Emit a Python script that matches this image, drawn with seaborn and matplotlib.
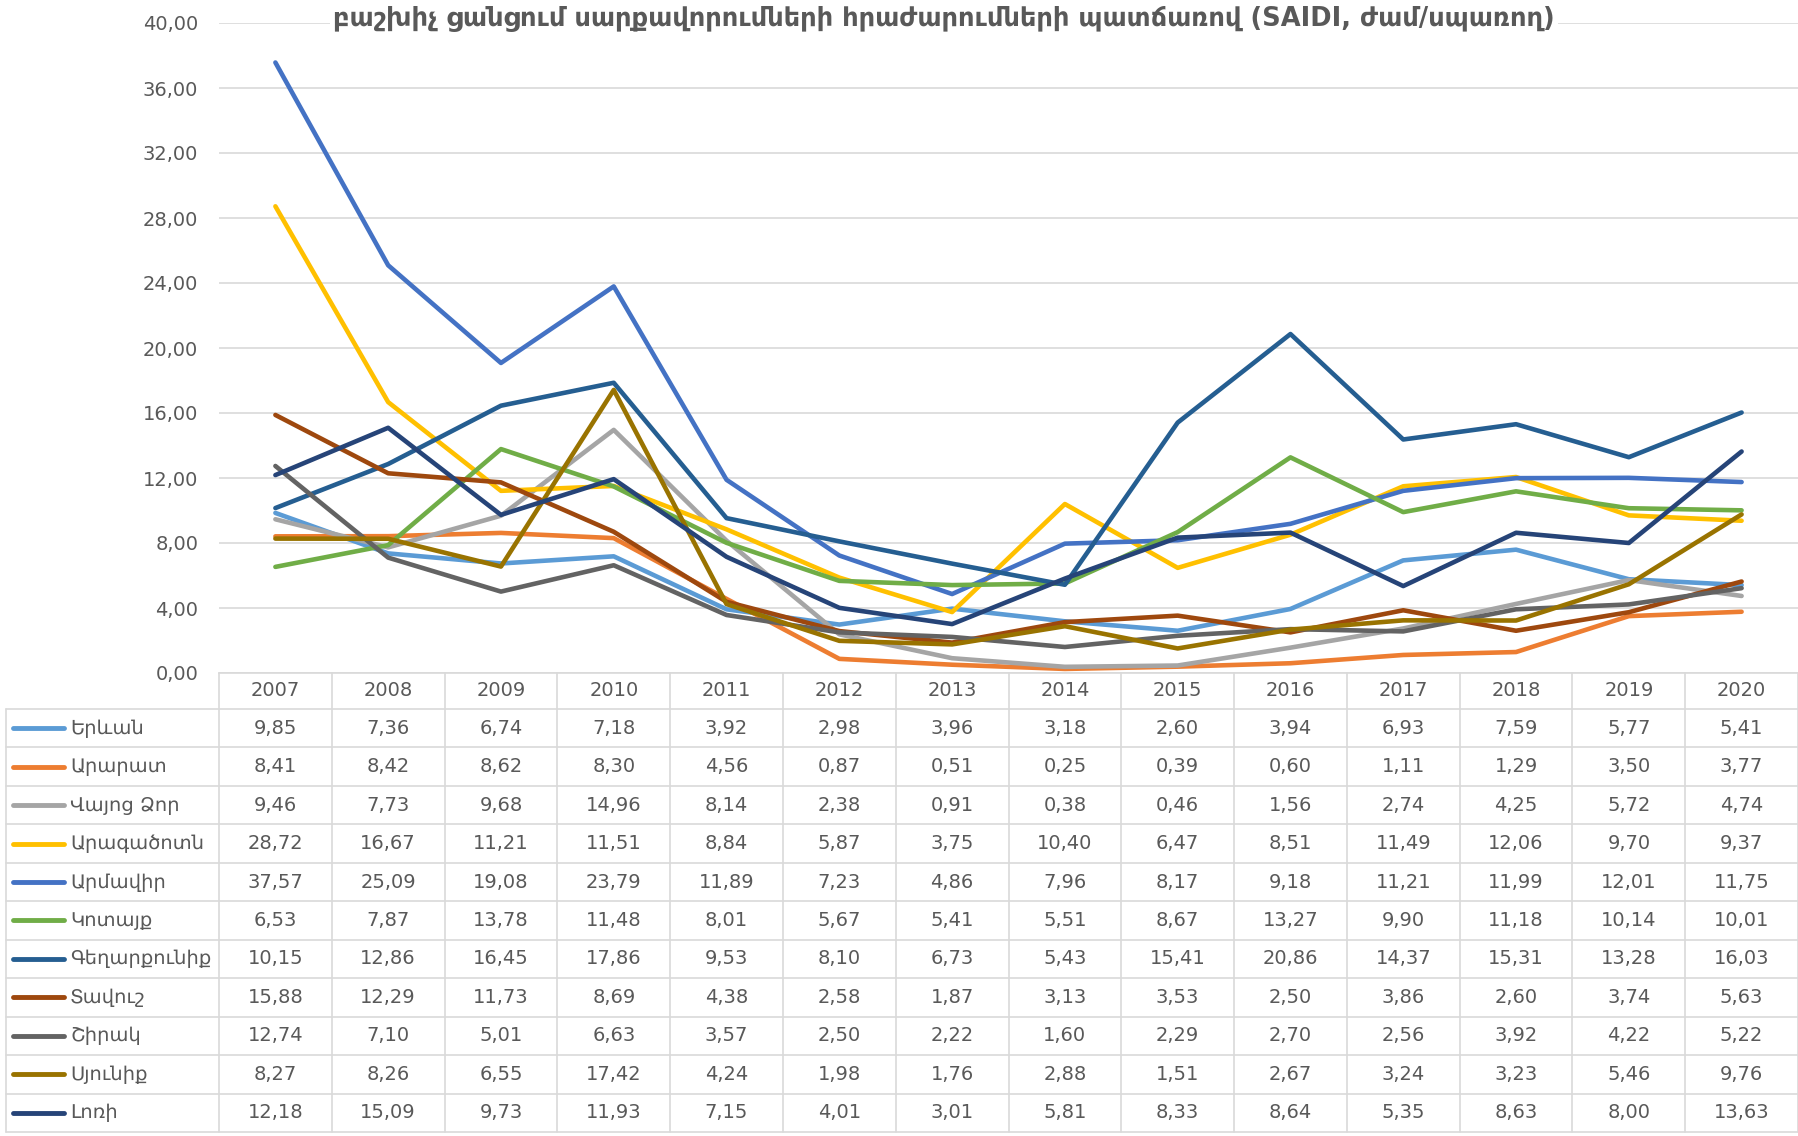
import pandas as pd
import matplotlib.pyplot as plt
import matplotlib.transforms as mtransforms
import seaborn as sns

years = [2007, 2008, 2009, 2010, 2011, 2012, 2013, 2014, 2015, 2016, 2017, 2018, 2019, 2020]

regions = ['Երևան', 'Արարատ', 'Վայոց Ձոր', 'Արագածոտն', 'Արմավիր', 'Կոտայք',
           'Գեղարքունիք', 'Տավուշ', 'Շիրակ', 'Սյունիք', 'Լոռի']

yerevan = [9.85, 7.36, 6.74, 7.18, 3.92, 2.98, 3.96, 3.18, 2.60, 3.94, 6.93, 7.59, 5.77, 5.41]
ararat = [8.41, 8.42, 8.62, 8.30, 4.56, 0.87, 0.51, 0.25, 0.39, 0.60, 1.11, 1.29, 3.50, 3.77]
vayots_dzor = [9.46, 7.73, 9.68, 14.96, 8.14, 2.38, 0.91, 0.38, 0.46, 1.56, 2.74, 4.25, 5.72, 4.74]
aragatsotn = [28.72, 16.67, 11.21, 11.51, 8.84, 5.87, 3.75, 10.40, 6.47, 8.51, 11.49, 12.06, 9.70, 9.37]
armavir = [37.57, 25.09, 19.08, 23.79, 11.89, 7.23, 4.86, 7.96, 8.17, 9.18, 11.21, 11.99, 12.01, 11.75]
kotayk = [6.53, 7.87, 13.78, 11.48, 8.01, 5.67, 5.41, 5.51, 8.67, 13.27, 9.90, 11.18, 10.14, 10.01]
gegharkunik = [10.15, 12.86, 16.45, 17.86, 9.53, 8.10, 6.73, 5.43, 15.41, 20.86, 14.37, 15.31, 13.28, 16.03]
tavush = [15.88, 12.29, 11.73, 8.69, 4.38, 2.58, 1.87, 3.13, 3.53, 2.50, 3.86, 2.60, 3.74, 5.63]
shirak = [12.74, 7.10, 5.01, 6.63, 3.57, 2.50, 2.22, 1.60, 2.29, 2.70, 2.56, 3.92, 4.22, 5.22]
syunik = [8.27, 8.26, 6.55, 17.42, 4.24, 1.98, 1.76, 2.88, 1.51, 2.67, 3.24, 3.23, 5.46, 9.76]
lori = [12.18, 15.09, 9.73, 11.93, 7.15, 4.01, 3.01, 5.81, 8.33, 8.64, 5.35, 8.63, 8.00, 13.63]

series = [yerevan, ararat, vayots_dzor, aragatsotn, armavir, kotayk,
          gegharkunik, tavush, shirak, syunik, lori]

colors = ['#5B9BD5', '#ED7D31', '#A5A5A5', '#FFC000', '#4472C4', '#70AD47',
          '#255E91', '#9E480E', '#636363', '#997300', '#264478']

title = 'բաշխիչ ցանցում սարքավորումների հրաժարումների պատճառով (SAIDI, ժամ/սպառող)'

rows = []
for name, vals in zip(regions, series):
    for y, v in zip(years, vals):
        rows.append({'year': y, 'value': v, 'region': name})
df = pd.DataFrame(rows)

sns.set_style('white')
plt.rcParams['font.family'] = ['DejaVu Sans']
plt.rcParams['lines.solid_joinstyle'] = 'round'
plt.rcParams['lines.solid_capstyle'] = 'round'

txt = '#595959'
grid_c = '#D9D9D9'
W, H = 1798, 1136

fig = plt.figure(figsize=(W / 100, H / 100), dpi=100)
left, top, axis_y, bottom = 219, 23, 673, 1132
ax = fig.add_axes([left / W, (H - axis_y) / H, (W - left) / W, (axis_y - top) / H])

sns.lineplot(data=df, x='year', y='value', hue='region', hue_order=regions,
             palette=colors, linewidth=3.3, legend=False, ax=ax)

ax.set_xlim(years[0] - 0.5, years[-1] + 0.5)
ax.set_ylim(0, 40)
ax.set_yticks(range(0, 41, 4))
ax.set_yticklabels([f'{t:.2f}'.replace('.', ',') for t in range(0, 41, 4)],
                   color=txt, fontsize=14)
ax.tick_params(axis='y', length=0, pad=15)
ax.set_xticks([])
ax.set_xlabel('')
ax.set_ylabel('')
ax.grid(axis='y', color=grid_c, linewidth=1.2)
ax.set_axisbelow(True)
for s in ['left', 'right', 'top']:
    ax.spines[s].set_visible(False)
ax.spines['bottom'].set_color(grid_c)
ax.spines['bottom'].set_linewidth(1.2)

fig.text(944 / W, 1 - 19 / H, title, ha='center', va='center', fontsize=18.5,
         color=txt, fontweight='bold',
         bbox=dict(facecolor='white', edgecolor='none', pad=2))

# data table below the chart
tax = fig.add_axes([left / W, (H - bottom) / H, (W - left) / W, (bottom - axis_y) / H])
tax.axis('off')
h0 = 36 / 38.5
n = len(regions)
tax.set_xlim(years[0] - 0.5, years[-1] + 0.5)
tax.set_ylim(h0 + n, 0)
blend = mtransforms.blended_transform_factory(fig.transFigure, tax.transData)

for k in range(len(years) + 1):
    tax.plot([years[0] - 0.5 + k] * 2, [0, h0 + n], color=grid_c, lw=1.2, clip_on=False)
for i in range(n + 1):
    tax.plot([6 / W, 1], [h0 + i, h0 + i], color=grid_c, lw=1.2,
             transform=blend, clip_on=False)
tax.plot([6 / W, 6 / W], [h0, h0 + n], color=grid_c, lw=1.2, transform=blend, clip_on=False)

for y in years:
    tax.text(y, h0 / 2, str(y), ha='center', va='center', fontsize=14, color=txt)

for i, (name, vals, c) in enumerate(zip(regions, series, colors)):
    yc = h0 + i + 0.5
    tax.plot([13 / W, 64 / W], [yc, yc], color=c, lw=3.5, transform=blend,
             clip_on=False, solid_capstyle='round')
    tax.text(70 / W, yc, name, ha='left', va='center', fontsize=14, color=txt,
             transform=blend)
    for y, v in zip(years, vals):
        tax.text(y, yc, f'{v:.2f}'.replace('.', ','), ha='center', va='center',
                 fontsize=14, color=txt)

fig.savefig('out.png', dpi=100)
